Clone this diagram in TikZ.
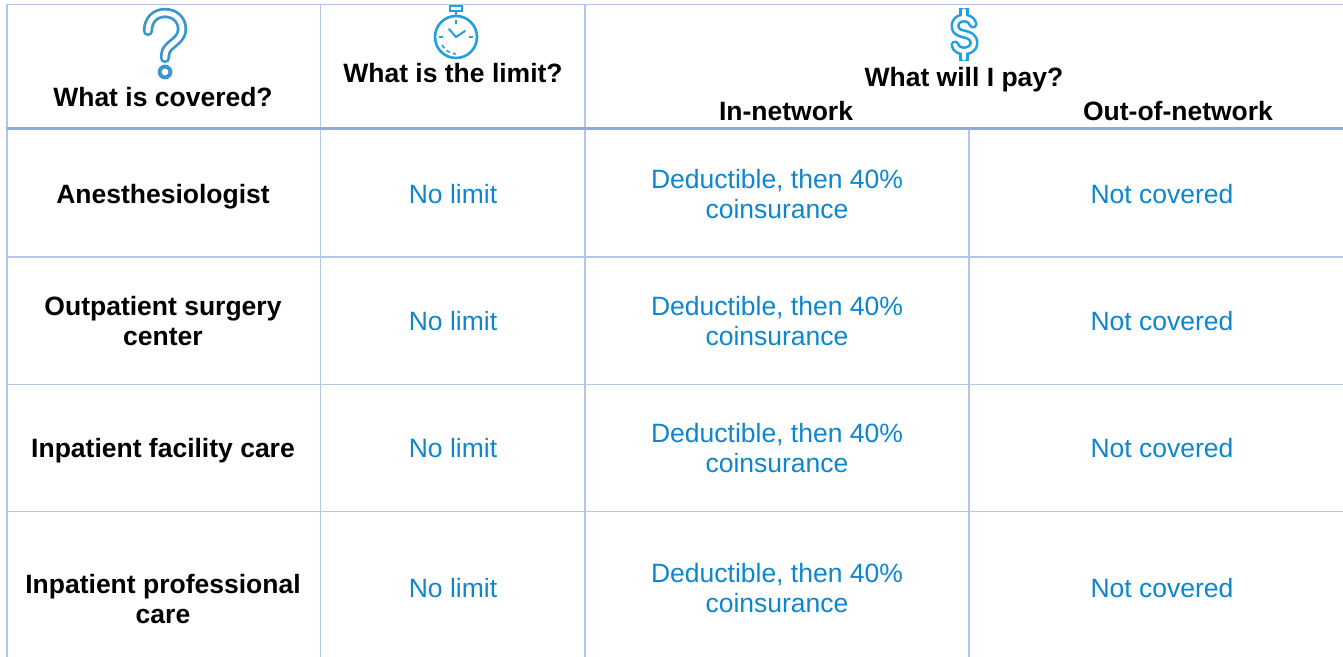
\documentclass[tikz,border=0pt]{standalone}
\usepackage{fontspec}
\setmainfont{Liberation Sans}
\definecolor{gridthin}{RGB}{180,198,231}
\definecolor{gridthick}{RGB}{143,170,220}
\definecolor{valblue}{RGB}{12,134,206}
\definecolor{qblue}{RGB}{60,150,205}
\definecolor{iconblue}{RGB}{30,160,225}
\newcommand\fsz{\fontsize{13.25pt}{15pt}\selectfont}
\newcommand\twol[2]{\begin{tabular}[t]{@{}c@{}}#1\\#2\end{tabular}}
\begin{document}
\begin{tikzpicture}[x=0.5pt,y=-0.5pt,
  thinline/.style={draw=gridthin,line width=0.9pt},
  thickline/.style={draw=gridthick,line width=1.7pt},
  hdr/.style={font=\bfseries\fsz,anchor=base,inner sep=0pt},
  lbl/.style={font=\bfseries\fsz,anchor=base,inner sep=0pt},
  val/.style={font=\fsz,text=valblue,anchor=base,inner sep=0pt},
  outer/.style={line width=5.2pt,line cap=round,line join=round},
  inner/.style={draw=white,line width=2.4pt,line cap=round,line join=round}]
\useasboundingbox (0,0) rectangle (1343,657);
% grid
\draw[thinline] (7,4.5) -- (1343,4.5);
\draw[thinline] (7,4.5) -- (7,657);
\draw[thinline] (320.5,4.5) -- (320.5,657);
\draw[thinline] (585,4.5) -- (585,657);
\draw[thinline] (969,128.5) -- (969,657);
\draw[thinline] (7,257) -- (1343,257);
\draw[thinline] (7,384.5) -- (1343,384.5);
\draw[thinline] (7,511.5) -- (1343,511.5);
\draw[thickline] (7,128.5) -- (1343,128.5);
% question mark icon
\draw[outer,draw=qblue] (148,31) .. controls (148,19) and (156,13) .. (165,13) .. controls (175,13) and (182,20) .. (182,29) .. controls (182,38) and (174,42) .. (169,47) .. controls (166,50) and (165,53) .. (165,58);
\fill[qblue] (165,72) circle[radius=3.7pt];
\draw[inner] (148,31) .. controls (148,19) and (156,13) .. (165,13) .. controls (175,13) and (182,20) .. (182,29) .. controls (182,38) and (174,42) .. (169,47) .. controls (166,50) and (165,53) .. (165,58);
\fill[white] (165,72) circle[radius=1.7pt];
% stopwatch icon
\draw[iconblue,line width=1.3pt] (456,37) circle[radius=10.5pt];
\draw[iconblue,line width=1pt] (450,6) rectangle (462,11);
\draw[iconblue,line width=1.3pt] (456,11) -- (456,16);
\draw[iconblue,line width=1pt,line cap=round] (449,29) -- (456,37) -- (465,31);
\draw[iconblue,line width=0.8pt] (456,20) -- (456,24) (473,37) -- (469,37) (439,37) -- (443,37);
\draw[iconblue,line width=0.8pt,dash pattern=on 2pt off 1.5pt] (442,45) .. controls (445,51) and (450,53) .. (456,54);
% dollar icon
\draw[outer,draw=iconblue,line width=4.6pt,line cap=butt] (964,8) -- (964,18) (964,51) -- (964,61);
\draw[outer,draw=iconblue,line width=4.6pt] (973,24) .. controls (971,19) and (967,18) .. (964,18) .. controls (959,18) and (955,21) .. (955,26) .. controls (955,32) and (960,33) .. (964,34) .. controls (969,35) and (974,37) .. (974,43) .. controls (974,48) and (969,51) .. (964,51) .. controls (960,51) and (956,49) .. (955,45);
\draw[inner,line width=2pt] (964,10.5) -- (964,18) (964,51) -- (964,58.5);
\draw[inner,line width=2pt] (973,24) .. controls (971,19) and (967,18) .. (964,18) .. controls (959,18) and (955,21) .. (955,26) .. controls (955,32) and (960,33) .. (964,34) .. controls (969,35) and (974,37) .. (974,43) .. controls (974,48) and (969,51) .. (964,51) .. controls (960,51) and (956,49) .. (955,45);
% headers
\node[hdr] (h1) at (163,107) {What is covered?};
\node[hdr] (h2) at (453,83) {What is the limit?};
\node[hdr] (h3) at (964,87) {What will I pay?};
\node[hdr] (h4) at (786,121) {In-network};
\node[hdr] (h5) at (1178,121) {Out-of-network};
% row labels
\node[lbl] (r1) at (163,204) {Anesthesiologist};
\node[lbl] (r2) at (163,316) {\twol{Outpatient surgery}{center}};
\node[lbl] (r3) at (163,457) {Inpatient facility care};
\node[lbl] (r4) at (163,593) {\twol{Inpatient professional}{care}};
% limits
\node[val] (l1) at (453,204) {No limit};
\node[val] (l2) at (453,331) {No limit};
\node[val] (l3) at (453,457) {No limit};
\node[val] (l4) at (453,597) {No limit};
% in-network
\node[val] (i1) at (777,189) {\twol{Deductible, then 40\%}{coinsurance}};
\node[val] (i2) at (777,316) {\twol{Deductible, then 40\%}{coinsurance}};
\node[val] (i3) at (777,442) {\twol{Deductible, then 40\%}{coinsurance}};
\node[val] (i4) at (777,582) {\twol{Deductible, then 40\%}{coinsurance}};
% out-of-network
\node[val] (o1) at (1162,204) {Not covered};
\node[val] (o2) at (1162,331) {Not covered};
\node[val] (o3) at (1162,457) {Not covered};
\node[val] (o4) at (1162,597) {Not covered};
\end{tikzpicture}
\end{document}
